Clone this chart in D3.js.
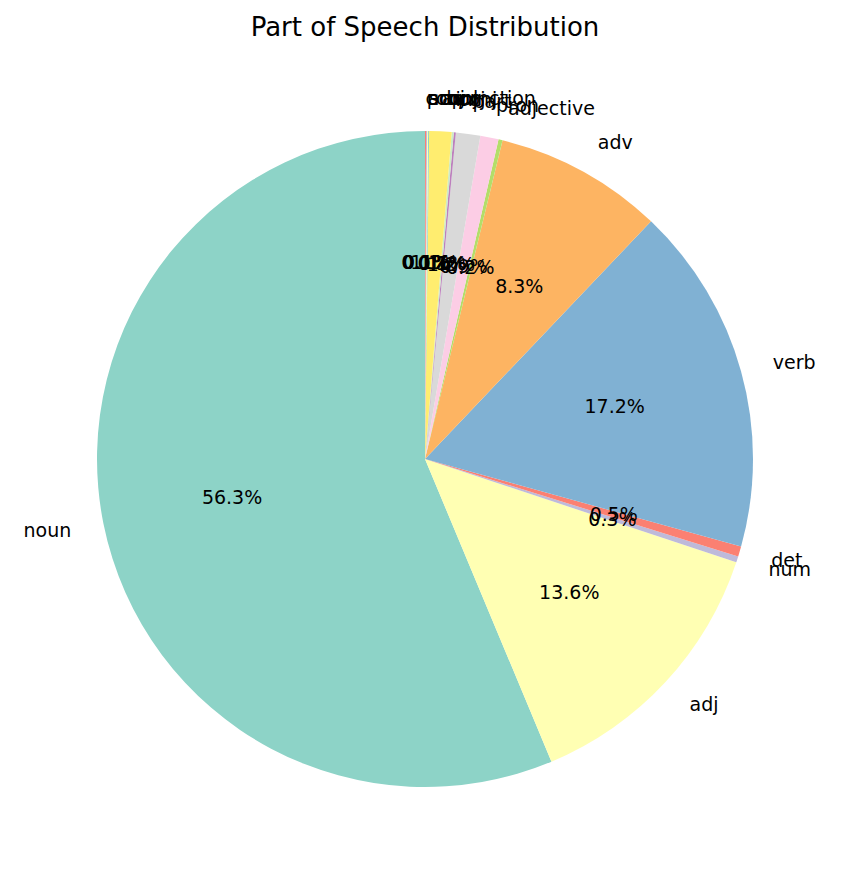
<!DOCTYPE html>
<html><head><meta charset="utf-8">
<script src="https://cdn.jsdelivr.net/npm/d3@7"></script>
<style>body{margin:0;background:#fff}text{font-family:"DejaVu Sans",sans-serif}</style>
</head><body><svg id="chart" width="850" height="884"></svg>
<script>
const labels = ["noun","adj","num","det","verb","adv","adjective","pron","part","conj","intj","aux","sconj","adp","propn","conjunction"]
const values = [56.3,13.6,0.3,0.5,17.2,8.3,0.2,0.9,1.2,0.1,0.1,1.1,0.05,0.05,0.05,0.05]
const colors = ["#8dd3c7","#ffffb3","#bebada","#fb8072","#80b1d3","#fdb462","#b3de69","#fccde5","#d9d9d9","#bc80bd","#ccebc5","#ffed6f"]

const svg = d3.select("#chart")
const cx = 425, cy = 459, r = 328
svg.append("text").attr("x", cx).attr("y", 36).attr("text-anchor", "middle")
  .attr("font-size", 26).text("Part of Speech Distribution")

const total = d3.sum(values)
// matplotlib style: start at top, counter-clockwise
const pie = d3.pie().sort(null).startAngle(0).endAngle(-2 * Math.PI)
const arcs = pie(values)
const arc = d3.arc().innerRadius(0).outerRadius(r)
const g = svg.append("g").attr("transform", `translate(${cx},${cy})`)

g.selectAll("path").data(arcs).enter().append("path")
  .attr("d", arc)
  .attr("fill", (d, i) => colors[i % colors.length])

function pos(d, f) {
  const a = (d.startAngle + d.endAngle) / 2
  return [Math.sin(a) * r * f, -Math.cos(a) * r * f]
}
g.selectAll("text.lab").data(arcs).enter().append("text")
  .attr("class", "lab")
  .attr("x", d => pos(d, 1.1)[0]).attr("y", d => pos(d, 1.1)[1])
  .attr("dy", "0.35em").attr("font-size", 19)
  .attr("text-anchor", d => pos(d, 1.1)[0] >= 0 ? "start" : "end")
  .text((d, i) => labels[i])
g.selectAll("text.pct").data(arcs).enter().append("text")
  .attr("class", "pct")
  .attr("x", d => pos(d, 0.6)[0]).attr("y", d => pos(d, 0.6)[1])
  .attr("dy", "0.35em").attr("font-size", 19).attr("text-anchor", "middle")
  .text(d => (d.value / total * 100).toFixed(1) + "%")
</script></body></html>
